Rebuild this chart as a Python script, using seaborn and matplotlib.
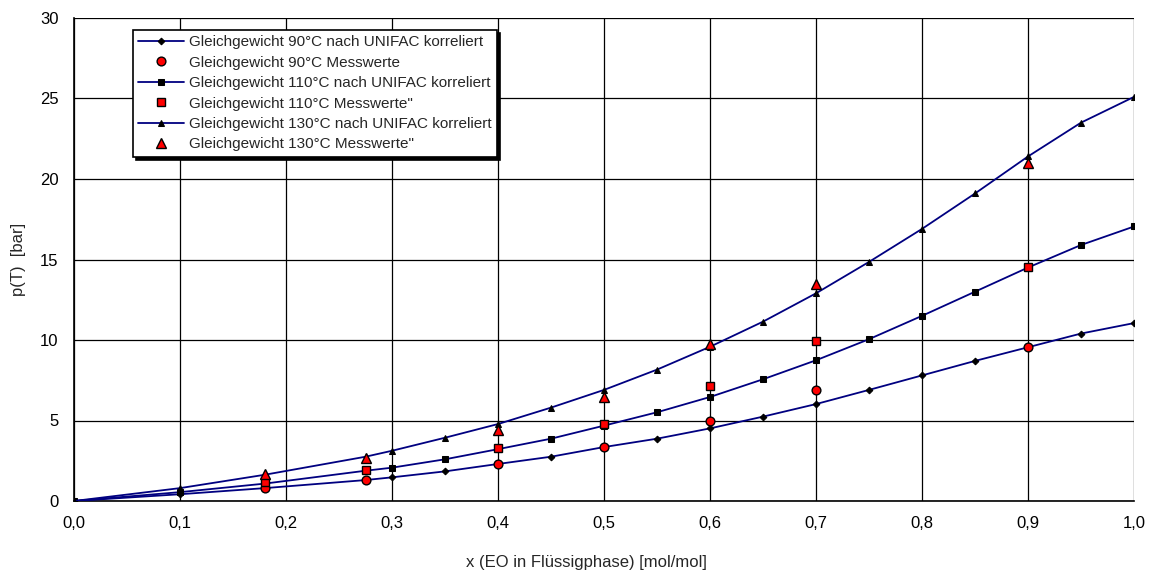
import seaborn as sns
import matplotlib.pyplot as plt
import matplotlib.ticker as mticker

# UNIFAC correlated curves
x_unifac = [0.0, 0.1, 0.18, 0.275, 0.3, 0.35, 0.4, 0.45, 0.5, 0.55, 0.6,
            0.65, 0.7, 0.75, 0.8, 0.85, 0.9, 0.95, 1.0]
p90_unifac = [0.0, 0.42, 0.8, 1.3, 1.47, 1.84, 2.3, 2.75, 3.35, 3.87, 4.51,
              5.24, 6.02, 6.9, 7.8, 8.7, 9.55, 10.4, 11.05]
p110_unifac = [0.0, 0.55, 1.08, 1.88, 2.07, 2.59, 3.22, 3.87, 4.68, 5.51, 6.46,
               7.56, 8.74, 10.05, 11.5, 13.0, 14.5, 15.9, 17.05]
p130_unifac = [0.0, 0.8, 1.63, 2.75, 3.12, 3.93, 4.78, 5.8, 6.9, 8.16, 9.58,
               11.14, 12.9, 14.85, 16.9, 19.1, 21.4, 23.5, 25.1]

# measured values
x_mess = [0.18, 0.275, 0.4, 0.5, 0.6, 0.7, 0.9]
p90_mess = [0.78, 1.3, 2.28, 3.37, 4.97, 6.9, 9.55]
p110_mess = [1.2, 1.93, 3.27, 4.8, 7.16, 9.94, 14.55]
p130_mess = [1.66, 2.7, 4.4, 6.48, 9.73, 13.5, 21.0]

labels = [
    "Gleichgewicht 90°C nach UNIFAC korreliert",
    "Gleichgewicht 90°C Messwerte",
    "Gleichgewicht 110°C nach UNIFAC korreliert",
    "Gleichgewicht 110°C Messwerte\"",
    "Gleichgewicht 130°C nach UNIFAC korreliert",
    "Gleichgewicht 130°C Messwerte\"",
]

sns.set_theme(style="white")
plt.rcParams['font.family'] = ['Liberation Sans', 'DejaVu Sans']

fig = plt.figure(figsize=(11.51, 5.75), dpi=100)
ax = fig.add_axes([74 / 1151, 1 - 501 / 575, 1060 / 1151, 483 / 575])

# (curve, measured, line marker, measured marker, sizes)
series = [
    (p90_unifac, p90_mess, 'D', 'o', 3.4, 6.3),
    (p110_unifac, p110_mess, 's', 's', 4.0, 6.0),
    (p130_unifac, p130_mess, '^', '^', 4.5, 7.0),
]
for i, (pu, pm, mk_line, mk_meas, ms_line, ms_meas) in enumerate(series):
    sns.lineplot(x=x_unifac, y=pu, ax=ax, color='#000080', linewidth=1.3,
                 marker=mk_line, markersize=ms_line, markerfacecolor='black',
                 markeredgecolor='black', label=labels[2 * i], zorder=3)
    sns.lineplot(x=x_mess, y=pm, ax=ax, linestyle='', marker=mk_meas,
                 markersize=ms_meas, markerfacecolor='red',
                 markeredgecolor='black', markeredgewidth=1, color='red',
                 label=labels[2 * i + 1], zorder=4)

ax.set_xlim(0, 1.0)
ax.set_ylim(0, 30)
ax.xaxis.set_major_locator(mticker.MultipleLocator(0.1))
ax.yaxis.set_major_locator(mticker.MultipleLocator(5))
ax.xaxis.set_major_formatter(mticker.FuncFormatter(lambda v, p: f"{v:.1f}".replace('.', ',')))
ax.yaxis.set_major_formatter(mticker.FuncFormatter(lambda v, p: f"{v:.0f}"))
ax.grid(True, color='black', linewidth=0.9)
for side in ['top', 'right']:
    ax.spines[side].set_visible(False)
for side in ['left', 'bottom']:
    ax.spines[side].set_color('black')
    ax.spines[side].set_linewidth(1.2)
ax.tick_params(axis='both', direction='out', length=5, width=1, color='black',
               labelsize=12, labelcolor='black', pad=6)
ax.set_xlabel("x (EO in Flüssigphase) [mol/mol]", fontsize=12, va='center')
ax.xaxis.set_label_coords(0.483, -0.128)
ax.set_ylabel("p(T)  [bar]", fontsize=12, labelpad=10)

leg = ax.legend(loc='upper left', bbox_to_anchor=(59 / 1060, 1 - 12 / 483),
                fontsize=11, frameon=True, fancybox=False,
                shadow={'color': 'black', 'alpha': 1},
                handlelength=3.0, handletextpad=0.3, labelspacing=0.42,
                borderpad=0.35, borderaxespad=0)
leg.get_frame().set_edgecolor('black')
leg.get_frame().set_linewidth(1.2)
leg.get_frame().set_alpha(1)

fig.savefig("out.png", dpi=100, facecolor='white')
